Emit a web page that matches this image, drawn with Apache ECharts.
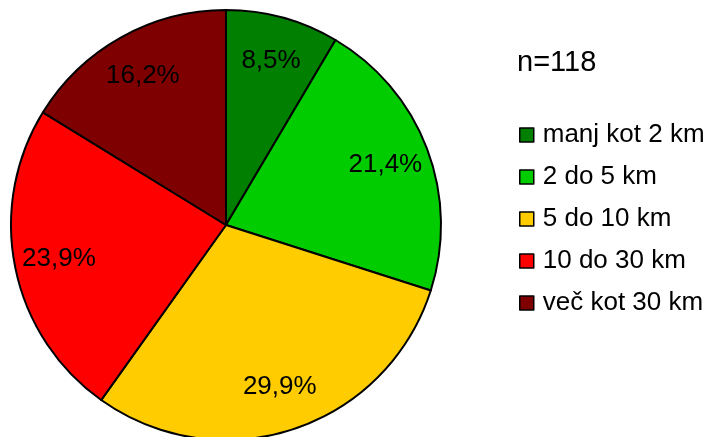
<!DOCTYPE html>
<html>
<head>
<meta charset="utf-8">
<script src="https://cdn.jsdelivr.net/npm/echarts@6/dist/echarts.min.js"></script>
<style>
  html, body { margin: 0; padding: 0; background: #fff; }
  #chart { width: 707px; height: 437px; }
</style>
</head>
<body>
<div id="chart"></div>
<script>
const categories = ['manj kot 2 km', '2 do 5 km', '5 do 10 km', '10 do 30 km', 'več kot 30 km'];
const shares = [8.5, 21.4, 29.9, 23.9, 16.2];
const colors = ['#007f00', '#00cc00', '#ffcc00', '#ff0000', '#7f0000'];
const sampleLabel = 'n=118';

const font = 'Liberation Sans, Arial, sans-serif';

const pieData = categories.map((name, i) => ({
  name: name,
  value: shares[i],
  itemStyle: {color: colors[i]}
}));

// transparent ring on top, just to put the percentages further out
const labelData = categories.map((name, i) => ({
  name: name,
  value: shares[i]
}));

const chart = echarts.init(document.getElementById('chart'));
chart.setOption({
  animation: false,
  title: {
    text: sampleLabel,
    left: 517,
    top: 48,
    padding: 0,
    textStyle: {fontFamily: font, fontSize: 29, fontWeight: 'normal', color: '#000'}
  },
  legend: {
    orient: 'vertical',
    left: 519,
    top: 122,
    padding: 0,
    itemWidth: 14,
    itemHeight: 14,
    itemGap: 16,
    icon: 'rect',
    data: categories,
    itemStyle: {borderColor: '#000', borderWidth: 1.5},
    textStyle: {fontFamily: font, fontSize: 26, color: '#000', lineHeight: 26, padding: [0, 0, 0, 4]}
  },
  series: [
    {
      type: 'pie',
      center: [226, 225],
      radius: 215,
      startAngle: 90,
      clockwise: true,
      silent: true,
      label: {show: false},
      labelLine: {show: false},
      itemStyle: {borderColor: '#000', borderWidth: 2},
      data: pieData
    },
    {
      type: 'pie',
      center: [226, 225],
      radius: [120, 215],
      startAngle: 90,
      clockwise: true,
      silent: true,
      legendHoverLink: false,
      itemStyle: {color: 'rgba(0,0,0,0)', borderWidth: 0},
      label: {
        show: true,
        position: 'inside',
        fontFamily: font,
        fontSize: 26,
        color: '#000',
        formatter: p => p.value.toFixed(1).replace('.', ',') + '%'
      },
      labelLine: {show: false},
      data: labelData
    }
  ]
});
</script>
</body>
</html>
